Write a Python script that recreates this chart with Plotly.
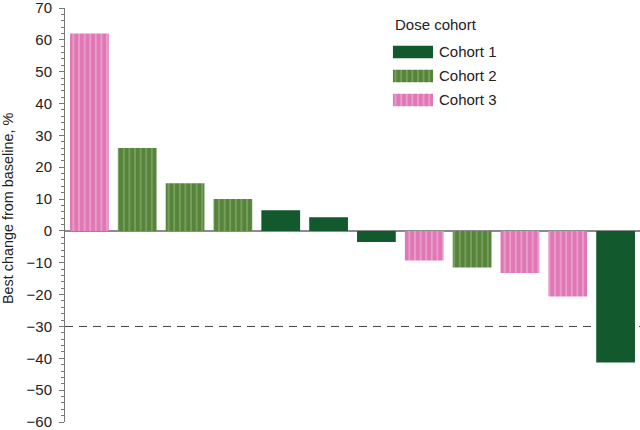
import plotly.graph_objects as go

# Data
patients = list(range(1, 13))
best_change = [62, 26, 15, 10, 6.5, 4.3, -3.5, -9.3, -11.5, -13.2, -20.6, -41.3]
cohort = ["Cohort 3", "Cohort 2", "Cohort 2", "Cohort 2", "Cohort 1", "Cohort 1",
          "Cohort 1", "Cohort 3", "Cohort 2", "Cohort 3", "Cohort 3", "Cohort 1"]
cohort_names = ["Cohort 1", "Cohort 2", "Cohort 3"]
legend_title = "Dose cohort"
y_title = "Best change from baseline, %"
threshold = -30
y_ticks = list(range(-60, 71, 10))

styles = {
    "Cohort 1": dict(color="#125a2d", pattern=dict(shape="")),
    "Cohort 2": dict(color="#55843a", pattern=dict(shape="|", fgcolor="#a2bf88", size=5.6, solidity=0.3)),
    "Cohort 3": dict(color="#e078b5", pattern=dict(shape="|", fgcolor="#f7c6e2", size=5.6, solidity=0.3)),
}

fig = go.Figure()
for name in cohort_names:
    xs = [p for p, c in zip(patients, cohort) if c == name]
    ys = [v for v, c in zip(best_change, cohort) if c == name]
    st = styles[name]
    fig.add_trace(go.Bar(
        x=xs, y=ys, name=name, width=0.81, showlegend=False,
        marker=dict(color=st["color"], line=dict(width=0), pattern=st["pattern"]),
    ))

# Legend drawn as swatch bars on a small inset axis
for name in cohort_names:
    st = styles[name]
    fig.add_trace(go.Bar(
        x=[1], y=[name], orientation="h", width=0.52, showlegend=False,
        xaxis="x2", yaxis="y2", hoverinfo="skip",
        marker=dict(color=st["color"], line=dict(width=0), pattern=st["pattern"]),
    ))
    fig.add_annotation(text=name, xref="x2 domain", x=1, xshift=4, xanchor="left",
                       yref="y2", y=name, yanchor="middle", showarrow=False,
                       font=dict(size=15, color="#222222"))

fig.add_annotation(text=legend_title, xref="x2 domain", x=0, xanchor="left",
                   yref="paper", y=0.961, yanchor="middle", showarrow=False,
                   font=dict(size=15, color="#222222"))

fig.add_annotation(text=y_title, textangle=-90, xref="paper", x=0, xshift=-57, xanchor="center",
                   yref="paper", y=0.5145, yanchor="middle", showarrow=False,
                   font=dict(size=14.4, color="#222222"))

fig.add_shape(type="line", xref="paper", x0=0, x1=1, yref="y", y0=threshold, y1=threshold,
              line=dict(color="#444444", width=1, dash="8px,6px"), layer="below")

fig.update_layout(
    width=640, height=430,
    margin=dict(l=65, r=0, t=8, b=8),
    paper_bgcolor="white", plot_bgcolor="rgba(0,0,0,0)",
    barmode="overlay",
    font=dict(family="Liberation Sans, Arial, sans-serif", size=15, color="#222222"),
    showlegend=False,
    xaxis=dict(range=[0.49, 12.51], visible=False),
    yaxis=dict(
        range=[-60, 70], tickvals=y_ticks, showgrid=False,
        zeroline=True, zerolinecolor="#8c8c8c", zerolinewidth=1.5,
        showline=True, linecolor="#777777", linewidth=1,
        ticks="outside", ticklen=5, tickcolor="#777777", tickwidth=1,
        ticklabelstandoff=4, ticklabeloverflow="allow",
        minor=dict(dtick=2, ticks="outside", ticklen=3, tickcolor="#777777", showgrid=False),
        tickfont=dict(size=15),
    ),
    xaxis2=dict(domain=[0.570, 0.640], range=[0, 1], visible=False, anchor="y2", fixedrange=True),
    yaxis2=dict(domain=[0.749, 0.923], visible=False, anchor="x2", fixedrange=True,
                categoryorder="array", categoryarray=cohort_names, autorange="reversed"),
)

fig.write_html("out.html", config={"displayModeBar": False},
               post_script="document.body.style.margin='0';")
